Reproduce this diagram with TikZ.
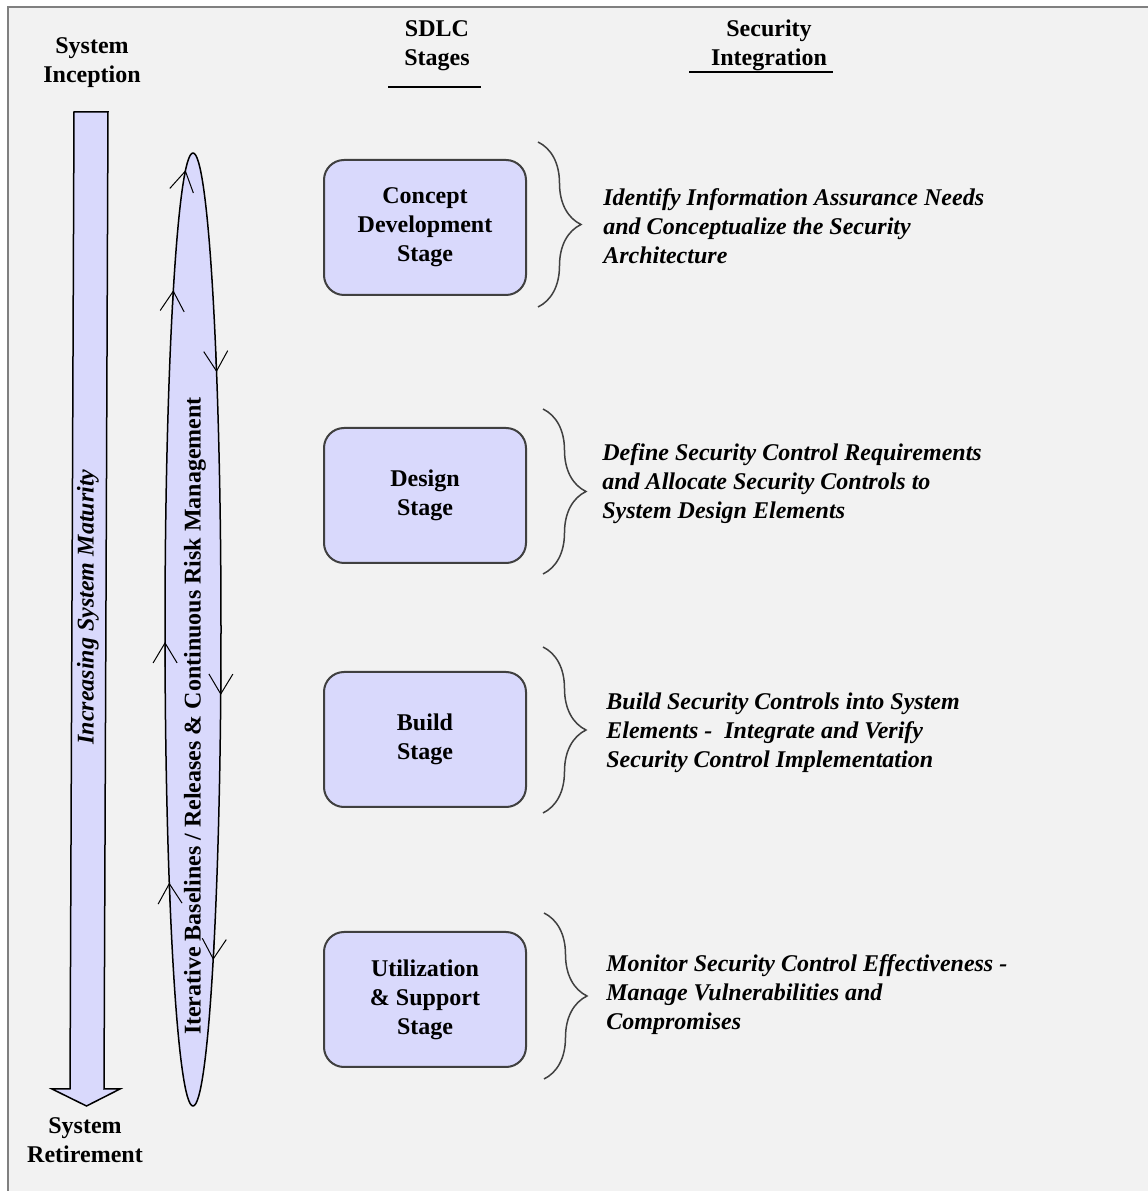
\documentclass[tikz,border=0pt]{standalone}
\usepackage{fontspec}
\setmainfont{Liberation Serif}
\usetikzlibrary{arrows.meta,decorations.pathreplacing}
\definecolor{lav}{HTML}{D9D9FC}
\definecolor{panel}{HTML}{F2F2F2}
\definecolor{framegray}{HTML}{808080}
\definecolor{boxline}{HTML}{404040}
\newcommand{\txt}{\fontsize{12}{14.5}\selectfont}
\tikzset{
  head/.style={align=center, font=\txt\bfseries},
  stagebox/.style={draw=boxline, fill=lav, line width=1pt, rounded corners=10pt,
    minimum width=101pt, minimum height=67.5pt, align=center, font=\txt\bfseries},
  sectext/.style={anchor=west, inner sep=0pt, align=left, font=\txt\bfseries\itshape},
  stagebrace/.style={draw=boxline, line width=0.75pt, decorate, decoration={brace, amplitude=21.5pt}},
  loopmark/.style={-{Straight Barb[length=10pt,width=12pt]}, line width=0.5pt},
}
\begin{document}
\begin{tikzpicture}[x=0.5pt,y=0.5pt]
\useasboundingbox (0,0) rectangle (1148,1191);
\fill[white] (0,0) rectangle (1148,1191);
\fill[panel] (8,0) rectangle (1148,1184);
\draw[framegray, line width=1.25pt] (8,0) -- (8,1184) -- (1148,1184);

% headings
\node[head] (incept) at (92,1128.5) {System\\Inception};
\node[head] (retire) at (85,51) {System\\Retirement};
\node[head] (sdlc) at (437,1145) {SDLC\\Stages};
\node[head] (secint) at (769,1146) {Security\\Integration};
\draw[line width=1.25pt] (388,1104) -- (481,1104);
\draw[line width=1.25pt] (689,1119) -- (833,1119);

% maturity arrow
\draw[fill=lav, line width=0.75pt] (74,1079) -- (108,1079) -- (104,102) -- (120,102)
  -- (86.5,85) -- (52,102) -- (70,102) -- cycle;
\node[rotate=90, font=\txt\bfseries\itshape] (mature) at (88,584) {Increasing System Maturity};

% iteration loop
\coordinate (ec) at (193,561.5);
\draw[fill=lav, line width=0.75pt] (ec) ellipse [x radius=28, y radius=476.5];
\node[rotate=90, font=\txt\bfseries] (iter) at (195,475)
  {Iterative Baselines / Releases \& Continuous Risk Management};
\foreach \t in {105.4,134.6,181.5,212.1,32.7,-7.9,-43.9}
  \draw[loopmark, shift={(ec)}] (\t+3:28 and 476.5) -- (\t:28 and 476.5);

% stages
\node[stagebox] (concept) at (425,963.5) {Concept\\Development\\Stage};
\node[stagebox] (design) at (425,695.5) {Design\\Stage};
\node[stagebox] (build) at (425,451.5) {Build\\Stage};
\node[stagebox] (util) at (425,191.5) {Utilization\\\& Support\\Stage};

\draw[stagebrace] (538,1049) -- (538,884);
\draw[stagebrace] (543,782) -- (543,617);
\draw[stagebrace] (543,544) -- (543,378);
\draw[stagebrace] (544,278) -- (544,112);

% security integration
\node[sectext] (needs) at (603,965) {Identify Information Assurance Needs\\and Conceptualize the Security\\Architecture};
\node[sectext] (reqs) at (602,707) {Define Security Control Requirements\\and Allocate Security Controls to\\System Design Elements};
\node[sectext] (impl) at (606,458) {Build Security Controls into System\\Elements -\ \ Integrate and Verify\\Security Control Implementation};
\node[sectext] (monitor) at (606,196) {Monitor Security Control Effectiveness -\\Manage Vulnerabilities and\\Compromises};
\end{tikzpicture}
\end{document}
